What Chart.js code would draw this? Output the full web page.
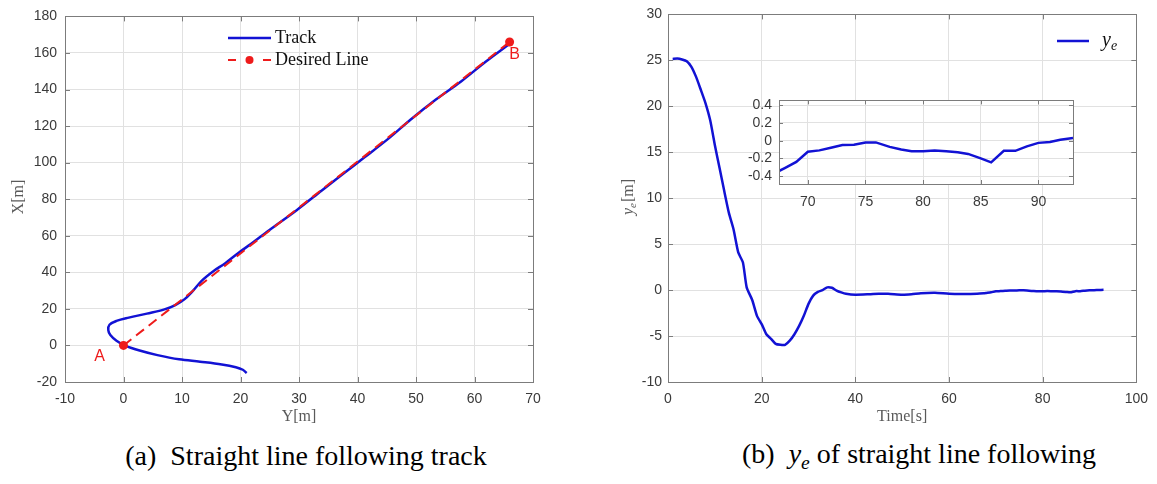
<!DOCTYPE html>
<html>
<head>
<meta charset="utf-8">
<script src="https://cdn.jsdelivr.net/npm/chart.js@4.4.0/dist/chart.umd.min.js"></script>
<style>
  html, body { margin: 0; padding: 0; background: #fff; }
  #page { position: relative; width: 1157px; height: 484px; overflow: hidden; background: #fff; }
  #page canvas { position: absolute; }
  .cap {
    position: absolute; white-space: pre; color: #000;
    font-family: "Liberation Serif", "Times New Roman", serif; font-size: 28px;
    transform: translate(-50%, -50%); line-height: 1;
  }
  .cap sub { font-size: 70%; vertical-align: -0.3em; }
</style>
</head>
<body>
<div id="page">
  <canvas id="trackChart" width="560" height="430" style="left:0;top:0;width:560px;height:430px"></canvas>
  <canvas id="errChart" width="577" height="430" style="left:580px;top:0;width:577px;height:430px"></canvas>
  <canvas id="zoomChart" width="370" height="130" style="left:720px;top:85px;width:370px;height:130px"></canvas>
  <div class="cap" style="left:306px;top:456px">(a)  Straight line following track</div>
  <div class="cap" style="left:919px;top:456px">(b)  <i>y</i><sub><i>e</i></sub> of straight line following</div>
</div>
<script>
// ---- Track of the vessel in the Y–X plane (Y horizontal, X vertical) ----
const trackY = [21.06, 20.4, 19.2, 16.8, 13.1, 9.5, 5.8, 2.75, 0.3, -1.2,
                -2.25, -2.6, -2.4, -1.2, 0.9, 4.0, 7.0, 8.85, 10.4, 11.9,
                13.4, 15.3, 17.4, 19.8, 21.7, 25.3, 29.6, 33.9, 37.5, 41.2,
                45.5, 49.1, 53.4, 57.7, 61.9, 65.9];
const trackX = [-15.1, -13.3, -11.9, -10.4, -8.9, -7.6, -5.3, -2.8, -0.1, 2.6,
                5.7, 8.4, 11.3, 13.4, 15.2, 17.4, 19.7, 22.1, 25.2, 30.0,
                35.5, 40.5, 45.0, 51.0, 55.3, 64.0, 74.0, 84.8, 93.8, 102.9,
                113.7, 123.6, 134.5, 144.4, 155.2, 164.8];

// Desired straight line from A to B
const lineY = [0, 66];
const lineX = [0, 166];
const endpointNames = ['A', 'B'];

// ---- Cross-track error y_e over time ----
const timeS = [1, 2, 3, 4, 5, 6, 7, 8, 9, 10, 11, 12, 13, 14, 15, 16, 16.8,
               18, 19, 20, 21, 22, 23, 24, 25, 26, 27, 28, 29, 30, 31, 32, 33, 34, 35, 36, 37, 38,
               40, 43, 45, 47, 50, 52, 54, 57, 60, 63, 66,
               67.4, 68, 69, 70, 71, 72, 73, 74, 75, 75.9,
               77.1, 78.1, 79, 80, 81, 82, 83, 83.9, 85, 85.9,
               87, 88, 89, 90, 91, 91.9, 93];
const yeM = [25.15, 25.2, 25.1, 24.9, 24.3, 23.2, 21.8, 20.35, 18.5, 15.8, 13.3, 10.8, 8.4, 6.6, 4.1, 3.0, 0.3,
             -1.1, -2.8, -3.7, -4.8, -5.3, -5.85, -5.95, -5.95, -5.5, -4.8, -3.9, -2.8, -1.5, -0.6, -0.2, 0.0, 0.3, 0.25, -0.05, -0.25, -0.4,
             -0.5, -0.45, -0.4, -0.4, -0.5, -0.45, -0.35, -0.3, -0.4, -0.42, -0.4,
             -0.35, -0.31, -0.24, -0.125, -0.11, -0.08, -0.05, -0.045, -0.02, -0.02,
             -0.07, -0.10, -0.12, -0.12, -0.11, -0.12, -0.13, -0.15, -0.20, -0.245,
             -0.115, -0.115, -0.065, -0.025, -0.015, 0.01, 0.03];

// Axis ranges and tick steps
const trackXRange = [-10, 70, 10];
const trackYRange = [-20, 180, 20];
const errXRange = [0, 100, 20];
const errYRange = [-10, 30, 5];
const zoomXRange = [67.5, 93, 5];
const zoomYRange = [-0.49, 0.455, 0.2];

const BLUE = '#1212d4';
const RED = '#ee1b1b';
const GRID = '#e1e1e1';
const BOX = '#7c7c7c';
const TICK_TEXT = '#3a3a3a';
const TITLE_TEXT = '#5a5a5a';
const SANS = '"Liberation Sans", Arial, sans-serif';
const SERIF = '"Liberation Serif", "Times New Roman", serif';

function fmt(v) { return String(+Number(v).toFixed(2)); }

function axis(range, fixedSize, isX, pad) {
  return {
    type: 'linear',
    min: range[0], max: range[1],
    ticks: {
      stepSize: range[2], includeBounds: false, autoSkip: false, maxRotation: 0,
      padding: pad, color: TICK_TEXT, font: { family: SANS, size: 14 },
      callback: (v) => fmt(v)
    },
    grid: { color: GRID, lineWidth: 1, drawTicks: false },
    border: { display: false },
    afterFit: (s) => { if (isX) s.height = fixedSize; else s.width = fixedSize; }
  };
}

// MATLAB-style box: white plot face, outline and inward tick marks on all sides
const boxAxes = {
  id: 'boxAxes',
  beforeDraw(chart, args, opts) {
    if (!opts.fill) return;
    const a = chart.chartArea, ctx = chart.ctx;
    ctx.save();
    ctx.fillStyle = '#fff';
    ctx.fillRect(a.left, a.top, a.right - a.left, a.bottom - a.top);
    ctx.restore();
  },
  afterDraw(chart, args, opts) {
    const { ctx, chartArea: a } = chart;
    const sx = chart.scales.x, sy = chart.scales.y;
    const L = opts.len || 5;
    ctx.save();
    ctx.strokeStyle = BOX;
    ctx.lineWidth = 1;
    ctx.beginPath();
    sx.ticks.forEach((t, i) => {
      const p = Math.round(sx.getPixelForTick(i)) + 0.5;
      ctx.moveTo(p, a.bottom); ctx.lineTo(p, a.bottom - L);
      ctx.moveTo(p, a.top); ctx.lineTo(p, a.top + L);
    });
    sy.ticks.forEach((t, i) => {
      const p = Math.round(sy.getPixelForTick(i)) + 0.5;
      ctx.moveTo(a.left, p); ctx.lineTo(a.left + L, p);
      ctx.moveTo(a.right, p); ctx.lineTo(a.right - L, p);
    });
    ctx.stroke();
    ctx.strokeRect(Math.round(a.left) + 0.5, Math.round(a.top) + 0.5,
                   Math.round(a.right - a.left), Math.round(a.bottom - a.top));
    ctx.restore();
  }
};

// italic y with subscript e, optionally followed by plain text
function drawYe(ctx, x, y, size, color, suffix, align) {
  ctx.save();
  ctx.fillStyle = color;
  ctx.textBaseline = 'alphabetic';
  const fy = 'italic ' + size + 'px ' + SERIF;
  const fe = 'italic ' + Math.round(size * 0.7) + 'px ' + SERIF;
  const fs = size + 'px ' + SERIF;
  ctx.font = fy; const wy = ctx.measureText('y').width;
  ctx.font = fe; const we = ctx.measureText('e').width;
  ctx.font = fs; const ws = suffix ? ctx.measureText(suffix).width : 0;
  const total = wy + we + 1 + ws;
  let x0 = align === 'center' ? x - total / 2 : x;
  const base = y + size * 0.3;
  ctx.textAlign = 'left';
  ctx.font = fy; ctx.fillText('y', x0, base);
  ctx.font = fe; ctx.fillText('e', x0 + wy, base + size * 0.22);
  if (suffix) { ctx.font = fs; ctx.fillText(suffix, x0 + wy + we + 1, base); }
  ctx.restore();
}

const common = {
  responsive: false, animation: false, devicePixelRatio: 1, events: [],
  plugins: { legend: { display: false }, tooltip: { enabled: false } }
};

// ---------- (a) track ----------
const trackDecor = {
  id: 'trackDecor',
  afterDraw(chart) {
    const { ctx, chartArea: a } = chart;
    const sx = chart.scales.x, sy = chart.scales.y;
    ctx.save();
    // endpoint names
    ctx.fillStyle = RED;
    ctx.font = '16px ' + SANS;
    ctx.textAlign = 'center'; ctx.textBaseline = 'middle';
    ctx.fillText(endpointNames[0], sx.getPixelForValue(lineY[0]) - 24, sy.getPixelForValue(lineX[0]) + 11);
    ctx.fillText(endpointNames[1], sx.getPixelForValue(lineY[1]) + 5, sy.getPixelForValue(lineX[1]) + 13);
    // axis titles
    ctx.fillStyle = TITLE_TEXT;
    ctx.font = '16px ' + SERIF;
    ctx.fillText('Y[m]', (a.left + a.right) / 2, 417);
    ctx.save();
    ctx.translate(19, 197); ctx.rotate(-Math.PI / 2);
    ctx.fillText('X[m]', 0, 0);
    ctx.restore();
    // legend
    ctx.lineWidth = 2.5; ctx.strokeStyle = BLUE;
    ctx.beginPath(); ctx.moveTo(228, 38); ctx.lineTo(271, 38); ctx.stroke();
    ctx.lineWidth = 2; ctx.strokeStyle = RED;
    ctx.beginPath(); ctx.moveTo(228, 60); ctx.lineTo(236, 60); ctx.moveTo(263, 60); ctx.lineTo(271, 60); ctx.stroke();
    ctx.fillStyle = RED;
    ctx.beginPath(); ctx.arc(249.5, 60, 4, 0, Math.PI * 2); ctx.fill();
    ctx.fillStyle = '#111';
    ctx.font = '18px ' + SERIF;
    ctx.textAlign = 'left';
    ctx.fillText('Track', 275, 38);
    ctx.fillText('Desired Line', 275, 60);
    ctx.restore();
  }
};

new Chart(document.getElementById('trackChart'), {
  type: 'scatter',
  data: {
    datasets: [
      {
        label: 'Desired Line',
        data: lineY.map((v, i) => ({ x: v, y: lineX[i] })),
        showLine: true, borderColor: RED, borderWidth: 2, borderDash: [10, 6],
        pointRadius: 4.5, pointBackgroundColor: RED, pointBorderWidth: 0, order: 0
      },
      {
        label: 'Track',
        data: trackY.map((v, i) => ({ x: v, y: trackX[i] })),
        showLine: true, borderColor: BLUE, borderWidth: 2.5, tension: 0.35,
        pointRadius: 0, order: 1
      }
    ]
  },
  options: Object.assign({}, common, {
    layout: { padding: { left: 0, top: 12, right: 27, bottom: 0 } },
    scales: {
      x: axis(trackXRange, 48, true, 9),
      y: axis(trackYRange, 65, false, 8)
    },
    plugins: Object.assign({}, common.plugins, { boxAxes: { len: 5 } })
  }),
  plugins: [boxAxes, trackDecor]
});

// ---------- (b) cross-track error ----------
const errDecor = {
  id: 'errDecor',
  afterDraw(chart) {
    const { ctx, chartArea: a } = chart;
    ctx.save();
    ctx.fillStyle = TITLE_TEXT;
    ctx.font = '16px ' + SERIF;
    ctx.textAlign = 'center'; ctx.textBaseline = 'middle';
    ctx.fillText('Time[s]', (a.left + a.right) / 2, 417);
    ctx.save();
    ctx.translate(48, 197); ctx.rotate(-Math.PI / 2);
    drawYe(ctx, 0, 0, 16, TITLE_TEXT, '[m]', 'center');
    ctx.restore();
    // legend
    ctx.lineWidth = 2.5; ctx.strokeStyle = BLUE;
    ctx.beginPath(); ctx.moveTo(477, 41); ctx.lineTo(509, 41); ctx.stroke();
    drawYe(ctx, 522, 40, 20, '#111', '', 'left');
    ctx.restore();
  }
};

new Chart(document.getElementById('errChart'), {
  type: 'scatter',
  data: {
    datasets: [{
      label: 'ye',
      data: timeS.map((t, i) => ({ x: t, y: yeM[i] })),
      showLine: true, borderColor: BLUE, borderWidth: 2.5, tension: 0.2, pointRadius: 0
    }]
  },
  options: Object.assign({}, common, {
    layout: { padding: { left: 0, top: 13, right: 19, bottom: 0 } },
    scales: {
      x: axis(errXRange, 48, true, 9),
      y: axis(errYRange, 88, false, 6)
    },
    plugins: Object.assign({}, common.plugins, { boxAxes: { len: 5 } })
  }),
  plugins: [boxAxes, errDecor]
});

// ---------- inset: close-up of the steady part ----------
new Chart(document.getElementById('zoomChart'), {
  type: 'scatter',
  data: {
    datasets: [{
      label: 'ye',
      data: timeS.map((t, i) => ({ x: t, y: yeM[i] })),
      showLine: true, borderColor: BLUE, borderWidth: 2.5, tension: 0, pointRadius: 0
    }]
  },
  options: Object.assign({}, common, {
    layout: { padding: { left: 0, top: 11, right: 17, bottom: 0 } },
    scales: {
      x: axis(zoomXRange, 31, true, 10),
      y: axis(zoomYRange, 59, false, 7)
    },
    plugins: Object.assign({}, common.plugins, { boxAxes: { len: 4, fill: true } })
  }),
  plugins: [boxAxes]
});
</script>
</body>
</html>
